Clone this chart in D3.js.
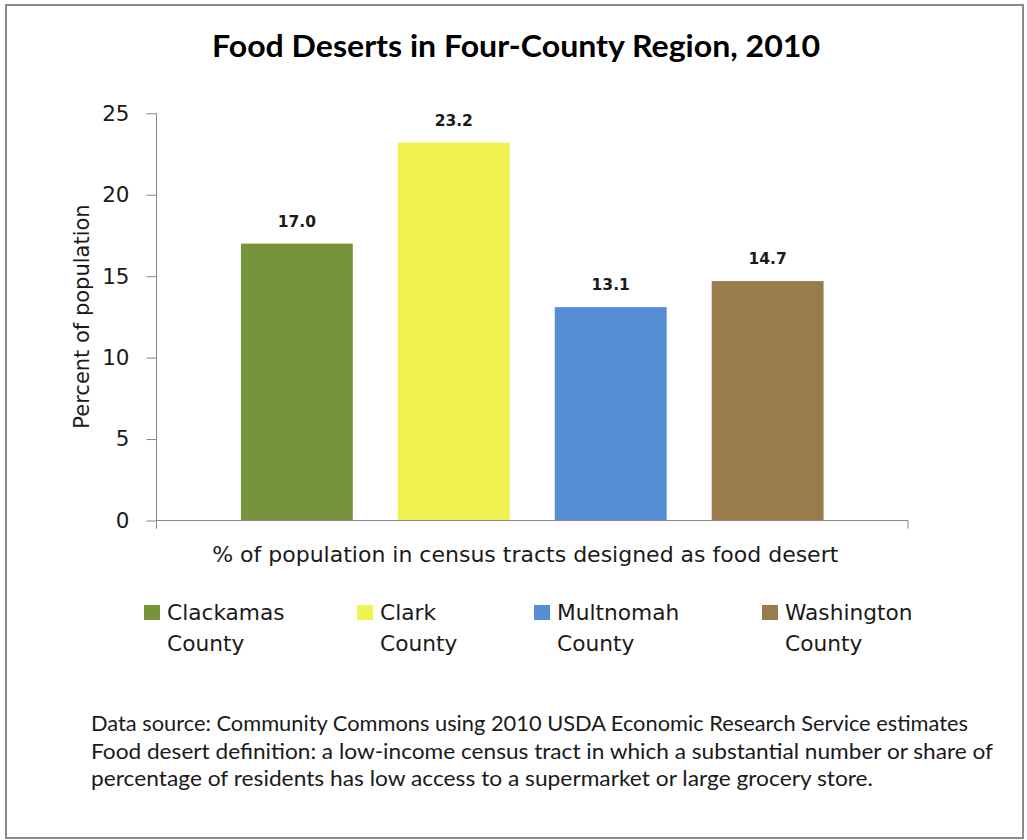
<!DOCTYPE html>
<html>
<head>
<meta charset="utf-8">
<script src="https://cdn.jsdelivr.net/npm/d3@7"></script>
<style>
  html, body { margin: 0; padding: 0; background: #fff; }
  svg { display: block; }
</style>
</head>
<body>
<svg id="chart" width="1027" height="840"></svg>
<script>
// Share of population living in food-desert census tracts, 2010
const category = "% of population in census tracts designed as food desert";
const counties = ["Clackamas County", "Clark County", "Multnomah County", "Washington County"];
const values = [17.0, 23.2, 13.1, 14.7];
const colors = ["#77933C", "#EFF24F", "#558ED5", "#9A7B4B"];
const yTicks = [0, 5, 10, 15, 20, 25];
const title = "Food Deserts in Four-County Region, 2010";
const yTitle = "Percent of population";
const notes = [
  "Data source: Community Commons using  2010 USDA Economic Research  Service estimates",
  "Food desert definition: a low-income census tract in which a substantial number or share of",
  "percentage of residents has low access to a supermarket or large grocery store."
];

const svg = d3.select("#chart");
const textColor = "#1a1a1a";
const axisColor = "#868686";
const sans = "'DejaVu Sans', Verdana, sans-serif";

// outer frame
svg.append("rect")
  .attr("x", 6).attr("y", 5)
  .attr("width", 1017).attr("height", 833)
  .attr("fill", "#fff")
  .attr("stroke", "#8a8a8a")
  .attr("stroke-width", 2);

// title
svg.append("text")
  .attr("x", 516).attr("y", 57)
  .attr("text-anchor", "middle")
  .attr("font-family", "Lato, 'Open Sans', sans-serif")
  .attr("font-weight", "bold")
  .attr("font-size", 30)
  .attr("fill", "#000")
  .attr("textLength", 608)
  .attr("lengthAdjust", "spacingAndGlyphs")
  .text(title);

// plot area
const plot = { left: 156.5, right: 908, top: 113.3, bottom: 520.5 };

const y = d3.scaleLinear().domain([0, 25]).range([plot.bottom, plot.top]);
const x = d3.scaleBand()
  .domain(counties)
  .range([plot.left, plot.right])
  .paddingInner(0.287)
  .paddingOuter(0.538);

// bars
svg.append("g").selectAll("rect")
  .data(counties)
  .join("rect")
  .attr("x", d => x(d))
  .attr("width", x.bandwidth())
  .attr("y", (d, i) => y(values[i]))
  .attr("height", (d, i) => y(0) - y(values[i]))
  .attr("fill", (d, i) => colors[i]);

// value labels
svg.append("g").selectAll("text")
  .data(counties)
  .join("text")
  .attr("x", d => x(d) + x.bandwidth() / 2)
  .attr("y", (d, i) => y(values[i]) - 17)
  .attr("text-anchor", "middle")
  .attr("font-family", sans)
  .attr("font-weight", "bold")
  .attr("font-size", 15.5)
  .attr("fill", textColor)
  .text((d, i) => values[i].toFixed(1));

// y axis
const yAxis = svg.append("g")
  .attr("transform", `translate(${plot.left},0)`)
  .call(d3.axisLeft(y).tickValues(yTicks).tickSize(10).tickPadding(17).tickSizeOuter(0));
yAxis.select(".domain").remove();
yAxis.selectAll(".tick line").attr("stroke", axisColor);
yAxis.selectAll(".tick text")
  .attr("font-family", sans)
  .attr("font-size", 21.5)
  .attr("fill", textColor);
svg.append("line")
  .attr("x1", plot.left).attr("x2", plot.left)
  .attr("y1", plot.top).attr("y2", plot.bottom + 8)
  .attr("stroke", axisColor);

// category axis with boundary ticks
const xCat = d3.scaleBand().domain([category]).range([plot.left, plot.right]);
const xAxis = svg.append("g")
  .attr("transform", `translate(0,${plot.bottom})`);
xAxis.append("line")
  .attr("x1", xCat(category)).attr("x2", xCat(category) + xCat.bandwidth())
  .attr("stroke", axisColor);
xAxis.selectAll(".edge")
  .data([xCat(category), xCat(category) + xCat.bandwidth()])
  .join("line")
  .attr("class", "edge")
  .attr("x1", d => d).attr("x2", d => d)
  .attr("y1", 0).attr("y2", 8)
  .attr("stroke", axisColor);
xAxis.append("text")
  .attr("x", xCat(category) + xCat.bandwidth() / 2 - 7)
  .attr("y", 41)
  .attr("text-anchor", "middle")
  .attr("font-family", sans)
  .attr("font-size", 22)
  .attr("fill", textColor)
  .text(category);

// y title
svg.append("text")
  .attr("transform", `translate(89,316.5) rotate(-90)`)
  .attr("text-anchor", "middle")
  .attr("font-family", sans)
  .attr("font-size", 21)
  .attr("fill", textColor)
  .text(yTitle);

// legend
const legendX = [144, 357, 534, 762];
const legend = svg.append("g").selectAll("g")
  .data(counties)
  .join("g")
  .attr("transform", (d, i) => `translate(${legendX[i]},0)`);
legend.append("rect")
  .attr("x", 0).attr("y", 605)
  .attr("width", 16).attr("height", 15)
  .attr("fill", (d, i) => colors[i]);
legend.append("text")
  .attr("x", 23).attr("y", 619.5)
  .attr("font-family", sans)
  .attr("font-size", 21.7)
  .attr("fill", textColor)
  .selectAll("tspan")
  .data(d => d.split(" "))
  .join("tspan")
  .attr("x", 23)
  .attr("dy", (d, i) => i === 0 ? 0 : 31)
  .text(d => d);

// source notes
const noteWidths = [877, 902, 782];
svg.append("g").selectAll("text")
  .data(notes)
  .join("text")
  .attr("x", 91)
  .attr("y", (d, i) => 731 + i * 27.5)
  .attr("font-family", "Lato, 'Open Sans', sans-serif")
  .attr("font-size", 20.5)
  .attr("fill", textColor)
  .attr("textLength", (d, i) => noteWidths[i])
  .attr("lengthAdjust", "spacingAndGlyphs")
  .text(d => d);
</script>
</body>
</html>
